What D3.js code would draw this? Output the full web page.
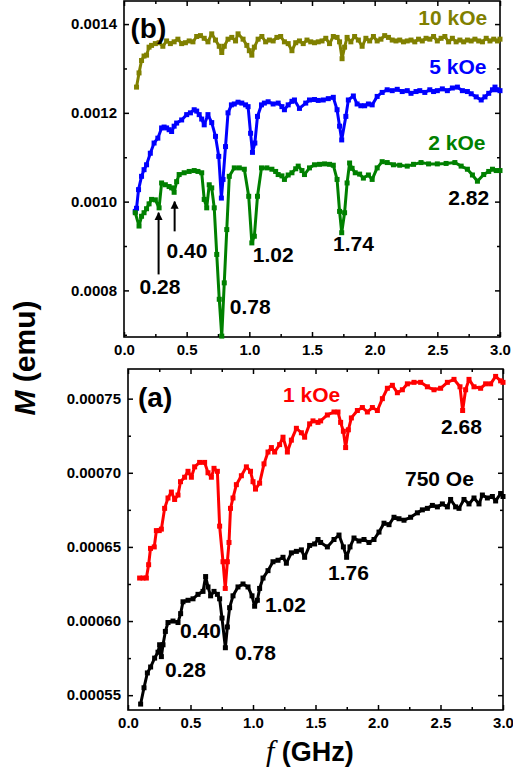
<!DOCTYPE html>
<html>
<head>
<meta charset="utf-8">
<script src="https://cdn.jsdelivr.net/npm/d3@7"></script>
<style>
  body { margin: 0; background: #fff; }
  svg text { font-family: "Liberation Sans", Arial, sans-serif; font-weight: bold; }
</style>
</head>
<body>
<div id="chart"></div>
<script>
// (f in GHz, M in emu)
var s10k = [[0.10,0.001258],[0.12,0.001290],[0.14,0.001318],[0.16,0.001328],[0.18,0.001330],[0.20,0.001348],[0.22,0.001352],[0.25,0.001356],[0.28,0.001358],[0.31,0.001350],[0.34,0.001362],[0.37,0.001356],[0.40,0.001360],[0.43,0.001366],[0.46,0.001356],[0.49,0.001358],[0.52,0.001362],[0.55,0.001360],[0.58,0.001372],[0.61,0.001374],[0.64,0.001368],[0.67,0.001360],[0.70,0.001378],[0.73,0.001364],[0.76,0.001350],[0.78,0.001336],[0.80,0.001350],[0.83,0.001366],[0.86,0.001370],[0.89,0.001362],[0.91,0.001378],[0.95,0.001366],[0.98,0.001352],[1.00,0.001340],[1.02,0.001330],[1.04,0.001348],[1.07,0.001366],[1.10,0.001372],[1.13,0.001360],[1.16,0.001364],[1.19,0.001362],[1.22,0.001370],[1.25,0.001372],[1.28,0.001360],[1.31,0.001356],[1.34,0.001340],[1.37,0.001358],[1.40,0.001362],[1.43,0.001356],[1.46,0.001364],[1.49,0.001360],[1.52,0.001358],[1.55,0.001360],[1.58,0.001362],[1.61,0.001368],[1.64,0.001356],[1.67,0.001372],[1.70,0.001370],[1.72,0.001360],[1.74,0.001322],[1.76,0.001348],[1.78,0.001370],[1.81,0.001360],[1.84,0.001372],[1.87,0.001364],[1.90,0.001350],[1.93,0.001368],[1.96,0.001362],[1.99,0.001372],[2.02,0.001362],[2.05,0.001366],[2.08,0.001374],[2.11,0.001370],[2.14,0.001364],[2.17,0.001362],[2.20,0.001364],[2.23,0.001360],[2.26,0.001362],[2.29,0.001364],[2.32,0.001360],[2.35,0.001366],[2.38,0.001362],[2.41,0.001368],[2.44,0.001366],[2.47,0.001372],[2.50,0.001362],[2.53,0.001368],[2.56,0.001372],[2.59,0.001360],[2.62,0.001368],[2.65,0.001360],[2.68,0.001364],[2.71,0.001360],[2.74,0.001364],[2.77,0.001362],[2.80,0.001366],[2.83,0.001362],[2.86,0.001360],[2.89,0.001368],[2.92,0.001362],[2.95,0.001366],[2.98,0.001362],[3.00,0.001366]];

var s5k = [[0.09,0.000978],[0.10,0.000985],[0.116,0.001027],[0.14,0.001057],[0.16,0.001072],[0.18,0.001083],[0.21,0.001109],[0.24,0.001132],[0.27,0.001143],[0.30,0.001166],[0.32,0.001168],[0.34,0.001166],[0.36,0.001162],[0.38,0.001158],[0.40,0.001170],[0.42,0.001177],[0.46,0.001184],[0.50,0.001196],[0.53,0.001200],[0.56,0.001207],[0.58,0.001204],[0.60,0.001196],[0.62,0.001186],[0.64,0.001173],[0.67,0.001196],[0.70,0.001178],[0.73,0.001147],[0.756,0.001102],[0.777,0.001008],[0.79,0.001050],[0.81,0.001124],[0.83,0.001200],[0.857,0.001218],[0.88,0.001220],[0.91,0.001224],[0.94,0.001222],[0.97,0.001218],[0.99,0.001214],[1.01,0.001154],[1.025,0.001111],[1.044,0.001132],[1.065,0.001192],[1.097,0.001218],[1.12,0.001222],[1.15,0.001225],[1.19,0.001220],[1.23,0.001222],[1.26,0.001214],[1.28,0.001207],[1.31,0.001218],[1.34,0.001226],[1.36,0.001229],[1.40,0.001210],[1.45,0.001222],[1.48,0.001229],[1.52,0.001230],[1.55,0.001228],[1.59,0.001229],[1.63,0.001232],[1.67,0.001235],[1.70,0.001207],[1.72,0.001170],[1.737,0.001139],[1.77,0.001192],[1.79,0.001229],[1.83,0.001238],[1.86,0.001220],[1.89,0.001216],[1.92,0.001216],[1.95,0.001220],[1.98,0.001218],[2.02,0.001237],[2.06,0.001246],[2.10,0.001252],[2.14,0.001250],[2.18,0.001253],[2.22,0.001248],[2.26,0.001250],[2.29,0.001244],[2.33,0.001248],[2.36,0.001250],[2.40,0.001246],[2.44,0.001252],[2.47,0.001248],[2.50,0.001250],[2.54,0.001254],[2.58,0.001250],[2.62,0.001256],[2.66,0.001258],[2.70,0.001250],[2.74,0.001248],[2.77,0.001243],[2.81,0.001236],[2.85,0.001229],[2.88,0.001236],[2.91,0.001244],[2.94,0.001252],[2.96,0.001258],[2.98,0.001252],[3.00,0.001250]];

var s2k = [[0.09,0.000975],[0.12,0.000945],[0.14,0.000967],[0.16,0.000975],[0.18,0.000984],[0.20,0.000995],[0.22,0.001005],[0.25,0.001004],[0.28,0.000986],[0.30,0.001042],[0.33,0.001038],[0.36,0.001034],[0.38,0.001031],[0.40,0.001021],[0.42,0.001045],[0.44,0.001061],[0.48,0.001065],[0.52,0.001068],[0.56,0.001070],[0.59,0.001068],[0.62,0.001065],[0.64,0.001005],[0.66,0.000986],[0.68,0.001038],[0.70,0.001031],[0.72,0.000986],[0.74,0.000881],[0.76,0.000780],[0.78,0.000697],[0.80,0.000817],[0.82,0.000937],[0.84,0.001057],[0.88,0.001076],[0.92,0.001076],[0.96,0.001073],[0.995,0.001012],[1.02,0.000907],[1.04,0.000922],[1.065,0.001012],[1.097,0.001076],[1.14,0.001076],[1.18,0.001073],[1.21,0.001068],[1.23,0.001061],[1.26,0.001058],[1.28,0.001050],[1.31,0.001060],[1.34,0.001065],[1.37,0.001074],[1.39,0.001080],[1.42,0.001070],[1.44,0.001061],[1.48,0.001076],[1.52,0.001083],[1.56,0.001084],[1.60,0.001085],[1.64,0.001084],[1.67,0.001082],[1.70,0.001050],[1.72,0.000978],[1.737,0.000930],[1.76,0.000975],[1.78,0.001042],[1.80,0.001087],[1.82,0.001075],[1.845,0.001065],[1.88,0.001062],[1.91,0.001053],[1.95,0.001060],[1.98,0.001050],[2.02,0.001076],[2.06,0.001090],[2.10,0.001088],[2.15,0.001083],[2.20,0.001082],[2.26,0.001080],[2.31,0.001084],[2.37,0.001088],[2.43,0.001085],[2.50,0.001085],[2.57,0.001086],[2.64,0.001088],[2.69,0.001080],[2.74,0.001073],[2.78,0.001060],[2.82,0.001046],[2.87,0.001061],[2.91,0.001068],[2.94,0.001073],[2.97,0.001070],[3.00,0.001070]];

var s1k = [[0.093,0.000629],[0.12,0.000629],[0.147,0.000629],[0.165,0.000638],[0.18,0.000649],[0.21,0.000650],[0.227,0.000661],[0.25,0.000661],[0.267,0.000662],[0.293,0.000676],[0.32,0.000683],[0.347,0.000687],[0.373,0.000682],[0.40,0.000685],[0.42,0.000694],[0.453,0.000697],[0.48,0.000701],[0.507,0.000697],[0.533,0.000704],[0.573,0.000707],[0.613,0.000707],[0.64,0.000700],[0.667,0.000697],[0.688,0.000703],[0.715,0.000701],[0.733,0.000664],[0.76,0.000640],[0.778,0.000622],[0.795,0.000640],[0.808,0.000653],[0.82,0.000676],[0.84,0.000683],[0.867,0.000692],[0.907,0.000698],[0.947,0.000704],[0.98,0.000701],[1.00,0.000694],[1.02,0.000689],[1.053,0.000693],[1.088,0.000706],[1.12,0.000714],[1.147,0.000717],[1.173,0.000714],[1.213,0.000719],[1.24,0.000724],[1.275,0.000714],[1.307,0.000722],[1.347,0.000730],[1.387,0.000727],[1.413,0.000724],[1.453,0.000733],[1.48,0.000735],[1.52,0.000734],[1.541,0.000735],[1.595,0.000739],[1.648,0.000741],[1.68,0.000741],[1.701,0.000734],[1.723,0.000728],[1.741,0.000717],[1.763,0.000729],[1.787,0.000737],[1.835,0.000742],[1.875,0.000744],[1.915,0.000741],[1.955,0.000744],[1.995,0.000742],[2.035,0.000750],[2.075,0.000757],[2.115,0.000759],[2.155,0.000754],[2.195,0.000756],[2.235,0.000760],[2.288,0.000761],[2.341,0.000761],[2.395,0.000758],[2.448,0.000756],[2.501,0.000757],[2.555,0.000761],[2.608,0.000763],[2.656,0.000758],[2.677,0.000742],[2.701,0.000756],[2.728,0.000763],[2.768,0.000758],[2.821,0.000757],[2.861,0.000760],[2.901,0.000760],[2.941,0.000765],[2.981,0.000762],[3.00,0.000761]];

var s750 = [[0.101,0.000544],[0.128,0.000555],[0.155,0.000565],[0.181,0.000569],[0.213,0.000575],[0.24,0.000579],[0.253,0.000584],[0.267,0.000576],[0.28,0.000584],[0.299,0.000593],[0.32,0.000599],[0.36,0.000600],[0.40,0.000599],[0.421,0.000605],[0.44,0.000613],[0.48,0.000614],[0.52,0.000615],[0.56,0.000618],[0.60,0.000620],[0.621,0.000630],[0.64,0.000623],[0.661,0.000617],[0.688,0.000620],[0.715,0.000618],[0.733,0.000615],[0.752,0.000602],[0.779,0.000582],[0.795,0.000596],[0.813,0.000609],[0.84,0.000617],[0.88,0.000623],[0.92,0.000625],[0.96,0.000623],[0.992,0.000617],[1.013,0.000610],[1.035,0.000614],[1.053,0.000622],[1.08,0.000629],[1.12,0.000634],[1.16,0.000640],[1.20,0.000641],[1.24,0.000643],[1.267,0.000639],[1.307,0.000646],[1.347,0.000647],[1.387,0.000648],[1.413,0.000643],[1.453,0.000651],[1.493,0.000652],[1.52,0.000655],[1.541,0.000653],[1.595,0.000650],[1.648,0.000655],[1.688,0.000658],[1.723,0.000650],[1.749,0.000643],[1.776,0.000650],[1.808,0.000656],[1.848,0.000654],[1.888,0.000655],[1.928,0.000653],[1.968,0.000655],[2.008,0.000660],[2.048,0.000666],[2.088,0.000665],[2.128,0.000670],[2.168,0.000669],[2.208,0.000668],[2.261,0.000670],[2.315,0.000673],[2.355,0.000675],[2.395,0.000676],[2.435,0.000678],[2.475,0.000677],[2.515,0.000679],[2.555,0.000677],[2.581,0.000682],[2.621,0.000677],[2.648,0.000676],[2.688,0.000682],[2.728,0.000679],[2.768,0.000683],[2.808,0.000679],[2.835,0.000685],[2.875,0.000683],[2.915,0.000684],[2.941,0.000681],[2.981,0.000686],[3.00,0.000684]];

var xMajor = [0, 0.5, 1, 1.5, 2, 2.5, 3];
var xMinor = [0.25, 0.75, 1.25, 1.75, 2.25, 2.75];
var yMajorB = [0.0008, 0.0010, 0.0012, 0.0014];
var yMinorB = [0.0007, 0.0009, 0.0011, 0.0013];
var yMajorA = [0.00055, 0.00060, 0.00065, 0.00070, 0.00075];
var yMinorA = [0.000575, 0.000625, 0.000675, 0.000725];

// labels: [text, f, M]
var labelsB = [["10 kOe", 2.348, 0.0013978, "#808000"], ["5 kOe", 2.436, 0.0012876, "#0000ff"], ["2 kOe", 2.428, 0.0011169, "#008000"],
               ["2.82", 2.588, 0.000993], ["1.74", 1.668, 0.000888], ["1.02", 1.028, 0.000865], ["0.78", 0.844, 0.000746],
               ["0.40", 0.34, 0.000874], ["0.28", 0.124, 0.000791]];
var labelsA = [["1 kOe", 1.24, 0.0007475, "#ff0000"], ["2.68", 2.504, 0.000726], ["750 Oe", 2.216, 0.000691],
               ["1.76", 1.6, 0.0006277], ["1.02", 1.096, 0.0006062], ["0.78", 0.856, 0.0005739],
               ["0.40", 0.416, 0.0005887], ["0.28", 0.296, 0.0005625]];
// arrows: [f, M from, M to]
var arrowsB = [[0.276, 0.000836, 0.000975], [0.404, 0.000933, 0.0010]];

var width = 513, height = 775;
var svg = d3.select("#chart").append("svg")
    .attr("width", width)
    .attr("height", height);

svg.append("defs").append("marker")
    .attr("id", "head")
    .attr("viewBox", "0 0 10 10")
    .attr("refX", 9).attr("refY", 5)
    .attr("markerWidth", 4).attr("markerHeight", 5)
    .attr("markerUnits", "strokeWidth")
    .attr("orient", "auto")
    .append("path").attr("d", "M0,0L10,5L0,10Z").attr("fill", "#000");

function panel(x0, x1, y0, y1, ydom, yMajor, yMinor, yfmt, series, labels, tag, arrows) {
    var x = d3.scaleLinear().domain([0, 3]).range([x0, x1]);
    var y = d3.scaleLinear().domain(ydom).range([y1, y0]);
    var g = svg.append("g");

    function ax(gen, tr, vals, size, fmt) {
        var a = g.append("g").attr("transform", tr)
            .call(gen.tickValues(vals).tickSize(size).tickSizeOuter(0).tickPadding(7).tickFormat(fmt));
        a.select(".domain").remove();
        a.selectAll("line").attr("stroke", "#000").attr("stroke-width", 1.5);
        a.selectAll("text").attr("font-size", 15).attr("fill", "#000")
            .style("font-family", '"Liberation Sans", Arial, sans-serif').style("font-weight", "bold");
        return a;
    }
    ax(d3.axisBottom(x), "translate(0," + y1 + ")", xMajor, -5, d3.format(".1f"));
    ax(d3.axisBottom(x), "translate(0," + y1 + ")", xMinor, -3, "");
    ax(d3.axisTop(x), "translate(0," + y0 + ")", xMajor, -5, "");
    ax(d3.axisTop(x), "translate(0," + y0 + ")", xMinor, -3, "");
    ax(d3.axisLeft(y), "translate(" + x0 + ",0)", yMajor, -5, d3.format(yfmt));
    ax(d3.axisLeft(y), "translate(" + x0 + ",0)", yMinor, -3, "");
    ax(d3.axisRight(y), "translate(" + x1 + ",0)", yMajor, -5, "");
    ax(d3.axisRight(y), "translate(" + x1 + ",0)", yMinor, -3, "");

    g.append("rect").attr("x", x0).attr("y", y0).attr("width", x1 - x0).attr("height", y1 - y0)
        .attr("fill", "none").attr("stroke", "#000").attr("stroke-width", 1.6);

    var line = d3.line().x(function(d) { return x(d[0]); }).y(function(d) { return y(d[1]); });
    series.forEach(function(s) {
        g.append("path").datum(s.data)
            .attr("d", line)
            .attr("fill", "none")
            .attr("stroke", s.color)
            .attr("stroke-width", 3)
            .attr("stroke-linejoin", "round");
        g.append("g").selectAll("rect").data(s.data).enter().append("rect")
            .attr("x", function(d) { return x(d[0]) - 2.5; })
            .attr("y", function(d) { return y(d[1]) - 2.5; })
            .attr("width", 5).attr("height", 5)
            .attr("fill", s.color);
    });

    g.append("text").attr("x", x(tag[1])).attr("y", y(tag[2]))
        .attr("font-size", 28).attr("fill", "#000").text(tag[0]);

    g.selectAll(".lbl").data(labels).enter().append("text")
        .attr("x", function(d) { return x(d[1]); })
        .attr("y", function(d) { return y(d[2]); })
        .attr("font-size", 21)
        .attr("fill", function(d) { return d[3] || "#000"; })
        .text(function(d) { return d[0]; });

    if (arrows) {
        g.selectAll(".arr").data(arrows).enter().append("line")
            .attr("x1", function(d) { return x(d[0]); })
            .attr("x2", function(d) { return x(d[0]); })
            .attr("y1", function(d) { return y(d[1]); })
            .attr("y2", function(d) { return y(d[2]); })
            .attr("stroke", "#000").attr("stroke-width", 2)
            .attr("marker-end", "url(#head)");
    }
}

panel(124, 500, 1, 337, [0.000695, 0.001452], yMajorB, yMinorB, ".4f",
    [{data: s10k, color: "#808000"}, {data: s5k, color: "#0000ff"}, {data: s2k, color: "#008000"}],
    labelsB, ["(b)", 0.052, 0.0013685], arrowsB);

panel(128, 503, 369, 710, [0.00054, 0.00077], yMajorA, yMinorA, ".5f",
    [{data: s1k, color: "#ff0000"}, {data: s750, color: "#000000"}],
    labelsA, ["(a)", 0.08, 0.0007441], null);

// axis titles
var yt = svg.append("text")
    .attr("transform", "translate(35,358) rotate(-90)")
    .attr("text-anchor", "middle")
    .attr("font-size", 30);
yt.append("tspan").attr("font-style", "italic").text("M");
yt.append("tspan").text(" (emu)");

var xt = svg.append("text")
    .attr("x", 266).attr("y", 761)
    .attr("font-size", 27);
xt.append("tspan").attr("font-style", "italic").style("font-family", '"Liberation Serif", "Times New Roman", serif').style("font-weight", "normal").attr("font-size", 30).text("f");
xt.append("tspan").text(" (GHz)");
</script>
</body>
</html>
